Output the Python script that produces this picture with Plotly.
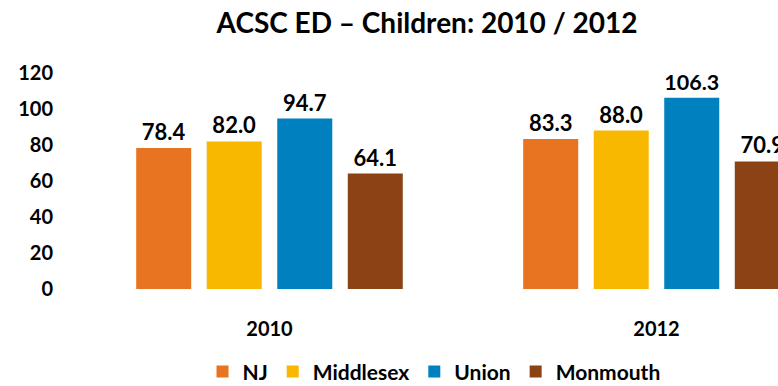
import plotly.graph_objects as go

years = ["2010", "2012"]
series_names = ["NJ", "Middlesex", "Union", "Monmouth"]
nj = [78.4, 83.3]
middlesex = [82.0, 88.0]
union = [94.7, 106.3]
monmouth = [64.1, 70.9]
y_ticks = [0, 20, 40, 60, 80, 100, 120]

colors = ["#E87321", "#F8B800", "#0080BF", "#8B4214"]
FONT = "Lato"

fig = go.Figure()
for name, vals, col in zip(series_names, [nj, middlesex, union, monmouth], colors):
    fig.add_trace(go.Bar(
        name=name, x=years, y=vals,
        marker=dict(color=col, line=dict(width=0)),
        text=[f"{v:.1f}" for v in vals],
        textposition="outside",
        textfont=dict(family=FONT, size=22, color="#000000", weight="bold"),
        cliponaxis=False,
    ))

fig.update_layout(
    width=778, height=386,
    margin=dict(l=76, r=0, t=73, b=97, autoexpand=False),
    paper_bgcolor="white", plot_bgcolor="white",
    barmode="group", bargap=0.271, bargroupgap=0.22,
    title=dict(text="<b>ACSC ED – Children: 2010 / 2012</b>",
               font=dict(family=FONT, size=28, color="#000000"),
               x=0.5, xref="paper", xanchor="center", y=0.94, yref="container", yanchor="middle"),
    font=dict(family=FONT, color="#000000"),
    showlegend=True,
    legend=dict(orientation="h", x=0.51, xanchor="center", y=-0.384, yanchor="middle",
                font=dict(family=FONT, size=21, color="#000000", weight="bold"),
                itemsizing="constant", traceorder="normal"),
    xaxis=dict(range=[-0.5, 1.314], showgrid=False, showline=False, zeroline=False,
               ticks="", tickfont=dict(family=FONT, size=20, color="#000000", weight="bold"),
               ticklabelstandoff=26),
    yaxis=dict(range=[0, 120], tickvals=y_ticks, showgrid=False, showline=False,
               zeroline=False, ticks="",
               tickfont=dict(family=FONT, size=20, color="#000000", weight="bold"),
               ticklabelstandoff=22),
)

fig.write_html("out.html")
